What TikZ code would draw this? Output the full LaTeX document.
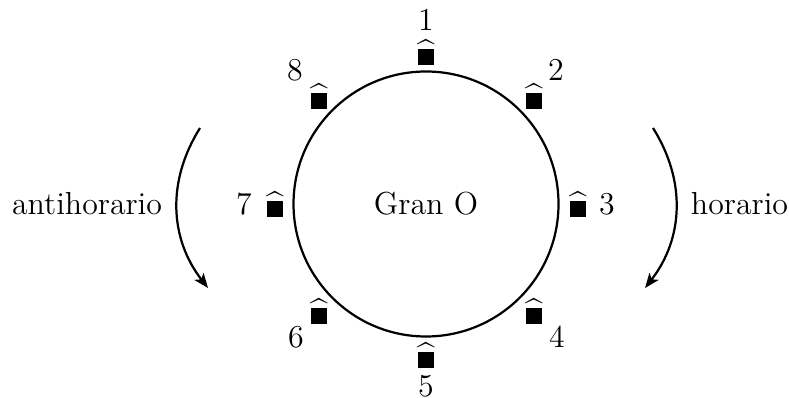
\documentclass[tikz,border=0pt]{standalone}
\usepackage{amssymb}
\usepackage{exscale}
\usetikzlibrary{arrows.meta}
\tikzset{
  px/.style={x=0.383pt,y=-0.383pt},
  every node/.style={font=\fontsize{12.2}{14}\selectfont},
  seat/.style={inner sep=0pt,outer sep=0pt,anchor=base},
  num/.style={inner sep=0pt,outer sep=0pt,anchor=center},
  word/.style={inner sep=0pt,outer sep=0pt,anchor=base},
  ring/.style={draw,circle,line width=0.85pt,minimum size=265*0.383pt,inner sep=0pt},
  turn/.style={line width=0.85pt,-{Stealth[length=5.6pt,width=4.4pt,inset=1.4pt]}}
}
\newcommand{\seatmark}{$\widehat{\rule{6.13pt}{6.13pt}}$}
\begin{document}
\begin{tikzpicture}[px]
\useasboundingbox (0,0) rectangle (789,398);
\node[ring] (ring) at (426,204) {};
\node[word] (gran) at (426,215) {Gran O};
\node[seat] (s1) at (426,65) {\seatmark};
\node[seat] (s2) at (534,109) {\seatmark};
\node[seat] (s3) at (578,217) {\seatmark};
\node[seat] (s4) at (534,324) {\seatmark};
\node[seat] (s5) at (426,368) {\seatmark};
\node[seat] (s6) at (319,324) {\seatmark};
\node[seat] (s7) at (275,217) {\seatmark};
\node[seat] (s8) at (319,109) {\seatmark};
\node[num] (n1) at (426,20) {1};
\node[num] (n2) at (556,70) {2};
\node[num] (n3) at (607,204) {3};
\node[num] (n4) at (557,337) {4};
\node[num] (n5) at (426,386.5) {5};
\node[num] (n6) at (296,337) {6};
\node[num] (n7) at (244,204) {7};
\node[num] (n8) at (295,70) {8};
\node[word] (anti) at (87,215) {antihorario};
\node[word] (hor) at (739.5,215) {horario};
\coordinate (a1) at (200,128);
\coordinate (a2) at (208,288);
\coordinate (b1) at (653,128);
\coordinate (b2) at (645,288);
\draw[turn] (a1) to[bend right=35] (a2);
\draw[turn] (b1) to[bend left=35] (b2);
\end{tikzpicture}
\end{document}
